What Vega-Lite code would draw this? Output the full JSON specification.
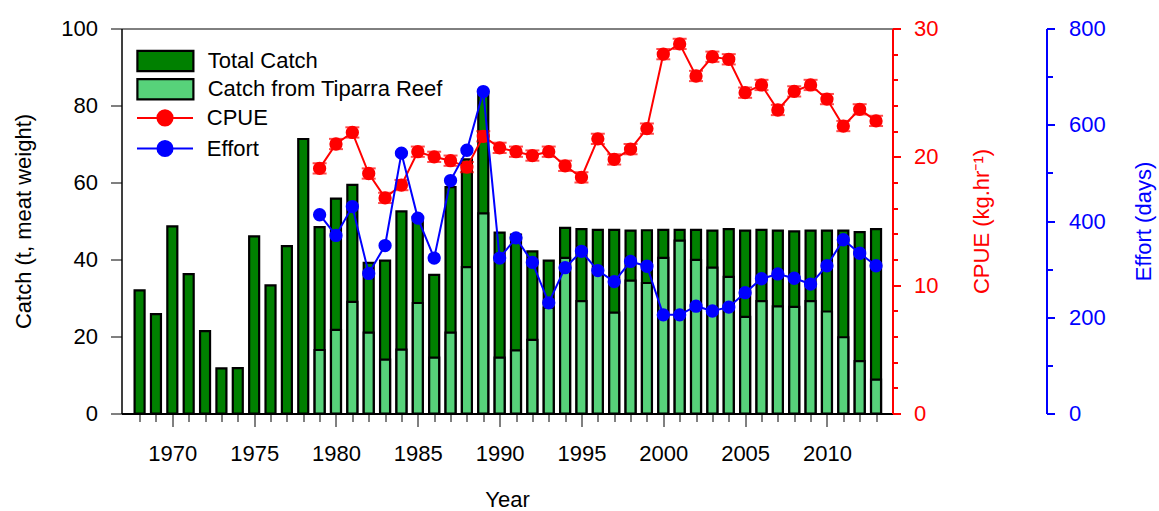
{
  "$schema": "https://vega.github.io/schema/vega-lite/v6.json",
  "autosize": {"type": "none"},
  "width": 771,
  "height": 385,
  "padding": {"left": 121.5, "top": 28.5, "right": 266.5, "bottom": 97.5},
  "background": "white",
  "config": {
    "view": {"stroke": "black", "strokeWidth": 1},
    "font": "Liberation Sans",
    "axis": {"grid": false, "labelFont": "Liberation Sans", "titleFont": "Liberation Sans", "labelFontSize": 22, "titleFontSize": 22, "titleFontWeight": "normal"},
    "legend": {"labelFont": "Liberation Sans", "labelFontSize": 22, "labelLimit": 400}
  },
  "data": {"values": [
    {"year": 1968, "total": 32.0, "tiparra": null, "cpue": null, "cpue_lo": null, "cpue_hi": null, "effort": null},
    {"year": 1969, "total": 25.8, "tiparra": null, "cpue": null, "cpue_lo": null, "cpue_hi": null, "effort": null},
    {"year": 1970, "total": 48.6, "tiparra": null, "cpue": null, "cpue_lo": null, "cpue_hi": null, "effort": null},
    {"year": 1971, "total": 36.2, "tiparra": null, "cpue": null, "cpue_lo": null, "cpue_hi": null, "effort": null},
    {"year": 1972, "total": 21.4, "tiparra": null, "cpue": null, "cpue_lo": null, "cpue_hi": null, "effort": null},
    {"year": 1973, "total": 11.7, "tiparra": null, "cpue": null, "cpue_lo": null, "cpue_hi": null, "effort": null},
    {"year": 1974, "total": 11.8, "tiparra": null, "cpue": null, "cpue_lo": null, "cpue_hi": null, "effort": null},
    {"year": 1975, "total": 46.0, "tiparra": null, "cpue": null, "cpue_lo": null, "cpue_hi": null, "effort": null},
    {"year": 1976, "total": 33.3, "tiparra": null, "cpue": null, "cpue_lo": null, "cpue_hi": null, "effort": null},
    {"year": 1977, "total": 43.5, "tiparra": null, "cpue": null, "cpue_lo": null, "cpue_hi": null, "effort": null},
    {"year": 1978, "total": 71.3, "tiparra": null, "cpue": null, "cpue_lo": null, "cpue_hi": null, "effort": null},
    {"year": 1979, "total": 48.4, "tiparra": 16.5, "cpue": 19.1, "cpue_lo": 18.7, "cpue_hi": 19.5, "effort": 413},
    {"year": 1980, "total": 55.8, "tiparra": 21.7, "cpue": 21.0, "cpue_lo": 20.6, "cpue_hi": 21.4, "effort": 370},
    {"year": 1981, "total": 59.4, "tiparra": 29.0, "cpue": 21.9, "cpue_lo": 21.5, "cpue_hi": 22.3, "effort": 430},
    {"year": 1982, "total": 39.1, "tiparra": 21.0, "cpue": 18.7, "cpue_lo": 18.3, "cpue_hi": 19.1, "effort": 291},
    {"year": 1983, "total": 39.7, "tiparra": 14.0, "cpue": 16.8, "cpue_lo": 16.4, "cpue_hi": 17.2, "effort": 349},
    {"year": 1984, "total": 52.5, "tiparra": 16.6, "cpue": 17.8, "cpue_lo": 17.4, "cpue_hi": 18.2, "effort": 541},
    {"year": 1985, "total": 51.0, "tiparra": 28.7, "cpue": 20.4, "cpue_lo": 20.0, "cpue_hi": 20.8, "effort": 406},
    {"year": 1986, "total": 36.0, "tiparra": 14.5, "cpue": 20.0, "cpue_lo": 19.6, "cpue_hi": 20.4, "effort": 323},
    {"year": 1987, "total": 58.8, "tiparra": 21.0, "cpue": 19.7, "cpue_lo": 19.3, "cpue_hi": 20.1, "effort": 484},
    {"year": 1988, "total": 66.0, "tiparra": 38.0, "cpue": 19.2, "cpue_lo": 18.8, "cpue_hi": 19.6, "effort": 547},
    {"year": 1989, "total": 83.6, "tiparra": 52.0, "cpue": 21.6, "cpue_lo": 21.2, "cpue_hi": 22.0, "effort": 669},
    {"year": 1990, "total": 47.0, "tiparra": 14.5, "cpue": 20.7, "cpue_lo": 20.3, "cpue_hi": 21.1, "effort": 323},
    {"year": 1991, "total": 46.5, "tiparra": 16.4, "cpue": 20.4, "cpue_lo": 20.0, "cpue_hi": 20.8, "effort": 365},
    {"year": 1992, "total": 42.1, "tiparra": 19.1, "cpue": 20.1, "cpue_lo": 19.7, "cpue_hi": 20.5, "effort": 314},
    {"year": 1993, "total": 39.7, "tiparra": 27.5, "cpue": 20.4, "cpue_lo": 20.0, "cpue_hi": 20.8, "effort": 230},
    {"year": 1994, "total": 48.2, "tiparra": 40.4, "cpue": 19.3, "cpue_lo": 18.9, "cpue_hi": 19.7, "effort": 303},
    {"year": 1995, "total": 47.9, "tiparra": 29.2, "cpue": 18.4, "cpue_lo": 18.0, "cpue_hi": 18.8, "effort": 337},
    {"year": 1996, "total": 47.7, "tiparra": 36.2, "cpue": 21.4, "cpue_lo": 21.0, "cpue_hi": 21.8, "effort": 297},
    {"year": 1997, "total": 47.7, "tiparra": 26.2, "cpue": 19.8, "cpue_lo": 19.4, "cpue_hi": 20.2, "effort": 274},
    {"year": 1998, "total": 47.5, "tiparra": 34.5, "cpue": 20.6, "cpue_lo": 20.2, "cpue_hi": 21.0, "effort": 316},
    {"year": 1999, "total": 47.6, "tiparra": 33.9, "cpue": 22.2, "cpue_lo": 21.8, "cpue_hi": 22.6, "effort": 306},
    {"year": 2000, "total": 47.7, "tiparra": 40.4, "cpue": 28.0, "cpue_lo": 27.6, "cpue_hi": 28.4, "effort": 205},
    {"year": 2001, "total": 47.7, "tiparra": 44.9, "cpue": 28.8, "cpue_lo": 28.4, "cpue_hi": 29.2, "effort": 205},
    {"year": 2002, "total": 47.7, "tiparra": 39.9, "cpue": 26.3, "cpue_lo": 25.9, "cpue_hi": 26.7, "effort": 223},
    {"year": 2003, "total": 47.5, "tiparra": 37.9, "cpue": 27.8, "cpue_lo": 27.4, "cpue_hi": 28.2, "effort": 213},
    {"year": 2004, "total": 47.9, "tiparra": 35.5, "cpue": 27.6, "cpue_lo": 27.2, "cpue_hi": 28.0, "effort": 221},
    {"year": 2005, "total": 47.5, "tiparra": 25.1, "cpue": 25.0, "cpue_lo": 24.6, "cpue_hi": 25.4, "effort": 251},
    {"year": 2006, "total": 47.7, "tiparra": 29.2, "cpue": 25.6, "cpue_lo": 25.2, "cpue_hi": 26.0, "effort": 280},
    {"year": 2007, "total": 47.5, "tiparra": 27.8, "cpue": 23.65, "cpue_lo": 23.25, "cpue_hi": 24.05, "effort": 290},
    {"year": 2008, "total": 47.3, "tiparra": 27.7, "cpue": 25.1, "cpue_lo": 24.7, "cpue_hi": 25.5, "effort": 281},
    {"year": 2009, "total": 47.5, "tiparra": 29.2, "cpue": 25.6, "cpue_lo": 25.2, "cpue_hi": 26.0, "effort": 269},
    {"year": 2010, "total": 47.5, "tiparra": 26.5, "cpue": 24.5, "cpue_lo": 24.1, "cpue_hi": 24.9, "effort": 307},
    {"year": 2011, "total": 47.5, "tiparra": 19.8, "cpue": 22.4, "cpue_lo": 22.0, "cpue_hi": 22.8, "effort": 361},
    {"year": 2012, "total": 47.1, "tiparra": 13.6, "cpue": 23.7, "cpue_lo": 23.3, "cpue_hi": 24.1, "effort": 333},
    {"year": 2013, "total": 47.9, "tiparra": 8.8, "cpue": 22.8, "cpue_lo": 22.4, "cpue_hi": 23.2, "effort": 307}
  ]},
  "encoding": {
    "x": {
      "field": "year", "type": "quantitative",
      "scale": {"domain": [1967.2, 2013.7], "nice": false, "zero": false},
      "axis": {
        "values": [1968,1969,1970,1971,1972,1973,1974,1975,1976,1977,1978,1979,1980,1981,1982,1983,1984,1985,1986,1987,1988,1989,1990,1991,1992,1993,1994,1995,1996,1997,1998,1999,2000,2001,2002,2003,2004,2005,2006,2007,2008,2009,2010,2011,2012,2013],
        "labelExpr": "datum.value % 5 === 0 ? '' + datum.value : ''",
        "labelOverlap": false, "labelFlush": false, "labelBound": false,
        "tickSize": {"condition": {"test": "datum.value % 5 === 0", "value": 13}, "value": 8},
        "tickColor": "black", "tickWidth": 1,
        "domainColor": "black", "domainWidth": 2,
        "labelColor": "black", "labelPadding": 17, "labelBaseline": "top",
        "title": "Year", "titleColor": "black", "titleY": 86, "titleBaseline": "middle"
      }
    }
  },
  "layer": [
    {
      "layer": [
        {
          "mark": {"type": "bar", "size": 10, "stroke": "black", "strokeWidth": 2.2, "opacity": 1},
          "encoding": {
            "y": {"field": "total", "type": "quantitative",
              "scale": {"domain": [0, 100], "nice": false},
              "axis": {"orient": "left", "values": [0,20,40,60,80,100], "tickSize": 11, "tickColor": "black", "domainColor": "black", "labelColor": "black", "labelPadding": 13,
                "title": "Catch (t, meat weight)", "titleColor": "black", "titleAngle": -90, "titleX": -98, "titleY": 192.5, "titleBaseline": "middle", "titleAlign": "center"}},
            "fill": {"datum": "Total Catch", "type": "nominal",
              "scale": {"domain": ["Total Catch", "Catch from Tiparra Reef"], "range": ["#008000", "#57d27a"]},
              "legend": {"title": null, "orient": "none", "legendX": 14.4, "legendY": 20.5, "padding": 0,
                "symbolType": "M-1,-0.36L1,-0.36L1,0.36L-1,0.36Z", "symbolSize": 3136,
                "symbolStrokeColor": "black", "symbolStrokeWidth": 2.2, "symbolOpacity": 1,
                "clipHeight": 24, "rowPadding": 4.3, "labelOffset": 12.8, "labelFontSize": 22, "labelColor": "black", "labelLimit": 400,
                "encode": {"symbols": {"update": {"stroke": {"value": "black"}, "strokeWidth": {"value": 2.2}}}}}}
          }
        },
        {
          "mark": {"type": "bar", "size": 10, "stroke": "black", "strokeWidth": 2.2, "opacity": 1},
          "encoding": {
            "y": {"field": "tiparra", "type": "quantitative"},
            "fill": {"datum": "Catch from Tiparra Reef", "type": "nominal"}
          }
        }
      ]
    },
    {
      "encoding": {
        "y": {"type": "quantitative",
          "scale": {"domain": [0, 30], "nice": false},
          "axis": {"orient": "right", "values": [0,2,4,6,8,10,12,14,16,18,20,22,24,26,28,30],
            "labelExpr": "datum.value % 10 === 0 ? '' + datum.value : ''",
            "tickSize": {"condition": {"test": "datum.value % 10 === 0", "value": 8}, "value": 5},
            "tickColor": "#ff0000", "tickWidth": 2, "domainColor": "#ff0000", "domainWidth": 2,
            "labelColor": "#ff0000", "labelPadding": 13, "labelOverlap": false,
            "title": "CPUE (kg.hr⁻¹)", "titleColor": "#ff0000", "titleAngle": -90, "titleX": 89, "titleY": 192.5, "titleBaseline": "middle", "titleAlign": "center"}}
      },
      "layer": [
        {
          "mark": {"type": "line", "strokeWidth": 2, "opacity": 1},
          "encoding": {
            "y": {"field": "cpue"},
            "color": {"datum": "CPUE", "type": "nominal",
              "scale": {"domain": ["CPUE", "Effort"], "range": ["#ff0000", "#0000ff"]},
              "legend": {"title": null, "orient": "none", "legendX": 14.5, "legendY": 77.4, "padding": 0,
                "symbolType": "M-1,0L1,0M-0.27,0A0.27,0.27,0,1,1,0.27,0A0.27,0.27,0,1,1,-0.27,0Z", "symbolSize": 3136,
                "symbolStrokeWidth": 2, "symbolOpacity": 1,
                "clipHeight": 24, "rowPadding": 6.6, "labelOffset": 12.8, "labelFontSize": 22, "labelColor": "black"}}
          }
        },
        {
          "mark": {"type": "errorbar", "color": "#ff0000", "ticks": {"size": 14, "thickness": 2, "color": "#ff0000"}, "rule": {"strokeWidth": 2}},
          "encoding": {
            "y": {"field": "cpue_lo"},
            "y2": {"field": "cpue_hi"}
          }
        },
        {
          "mark": {"type": "point", "filled": true, "size": 177, "opacity": 1},
          "encoding": {
            "y": {"field": "cpue"},
            "color": {"datum": "CPUE", "type": "nominal"}
          }
        }
      ]
    },
    {
      "layer": [
        {
          "mark": {"type": "line", "strokeWidth": 2, "opacity": 1},
          "encoding": {
            "y": {"field": "effort", "type": "quantitative",
              "scale": {"domain": [0, 800], "nice": false},
              "axis": {"orient": "right", "offset": 154, "values": [0,100,200,300,400,500,600,700,800],
                "labelExpr": "datum.value % 200 === 0 ? '' + datum.value : ''",
                "tickSize": {"condition": {"test": "datum.value % 200 === 0", "value": 8}, "value": 6},
                "tickColor": "#0000ff", "tickWidth": 2, "domainColor": "#0000ff", "domainWidth": 2,
                "labelColor": "#0000ff", "labelPadding": 14, "labelOverlap": false,
                "title": "Effort (days)", "titleColor": "#0000ff", "titleAngle": -90, "titleX": 97, "titleY": 192.5, "titleBaseline": "middle", "titleAlign": "center"}},
            "color": {"datum": "Effort", "type": "nominal"}
          }
        },
        {
          "mark": {"type": "point", "filled": true, "size": 177, "opacity": 1},
          "encoding": {
            "y": {"field": "effort", "type": "quantitative"},
            "color": {"datum": "Effort", "type": "nominal"}
          }
        }
      ]
    }
  ],
  "resolve": {"scale": {"y": "independent"}, "axis": {"y": "independent"}}
}
